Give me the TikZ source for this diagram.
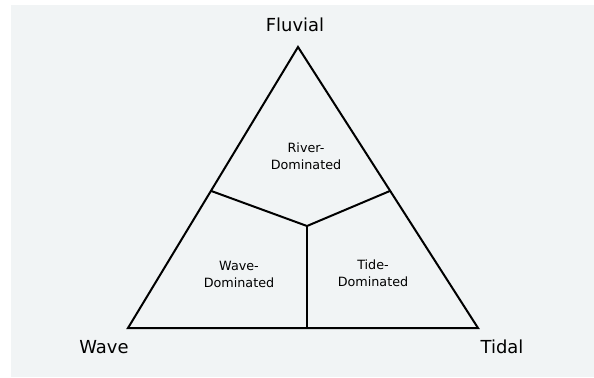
\documentclass[tikz,border=0pt]{standalone}
\usepackage{fontspec}
\setmainfont{DejaVu Sans}
\usepackage{xcolor}
\usetikzlibrary{calc}
\definecolor{paper}{HTML}{F1F4F5}
\tikzset{
  corner label/.style={font=\fontsize{18}{20}\selectfont, inner sep=0pt},
  region label/.style={font=\fontsize{12.8}{17}\selectfont, align=center, inner sep=0pt},
  edge line/.style={draw, line width=2bp, line join=miter},
}

\begin{document}
\begin{tikzpicture}[x=1bp, y=-1bp]
  \useasboundingbox (0,0) rectangle (594,377);
  \fill[white] (0,0) rectangle (594,377);
  \fill[paper] (11,5) rectangle (594,377);

  % corners of the triangle
  \coordinate (fluv) at (298,47);
  \coordinate (wave) at (128,328);
  \coordinate (tide) at (478,328);

  % inner boundaries
  \coordinate (wl)   at ($(fluv)!0.512!(wave)$);
  \coordinate (tr)   at ($(fluv)!0.512!(tide)$);
  \coordinate (mid)  at (307,226);
  \coordinate (base) at (mid |- wave);

  \draw[edge line] (fluv) -- (wave) -- (tide) -- cycle;
  \draw[edge line] (wl) -- (mid) -- (tr);
  \draw[edge line] (mid) -- (base);

  \node[corner label] (fluvtxt) at (295,25)  {Fluvial};
  \node[corner label] (wavetxt) at (104,347) {Wave};
  \node[corner label] (tidetxt) at (502,347) {Tidal};

  \node[region label] (river) at (306,156) {River-\\Dominated};
  \node[region label] (wdom)  at (239,274) {Wave-\\Dominated};
  \node[region label] (tdom)  at (373,273) {Tide-\\Dominated};
\end{tikzpicture}
\end{document}
